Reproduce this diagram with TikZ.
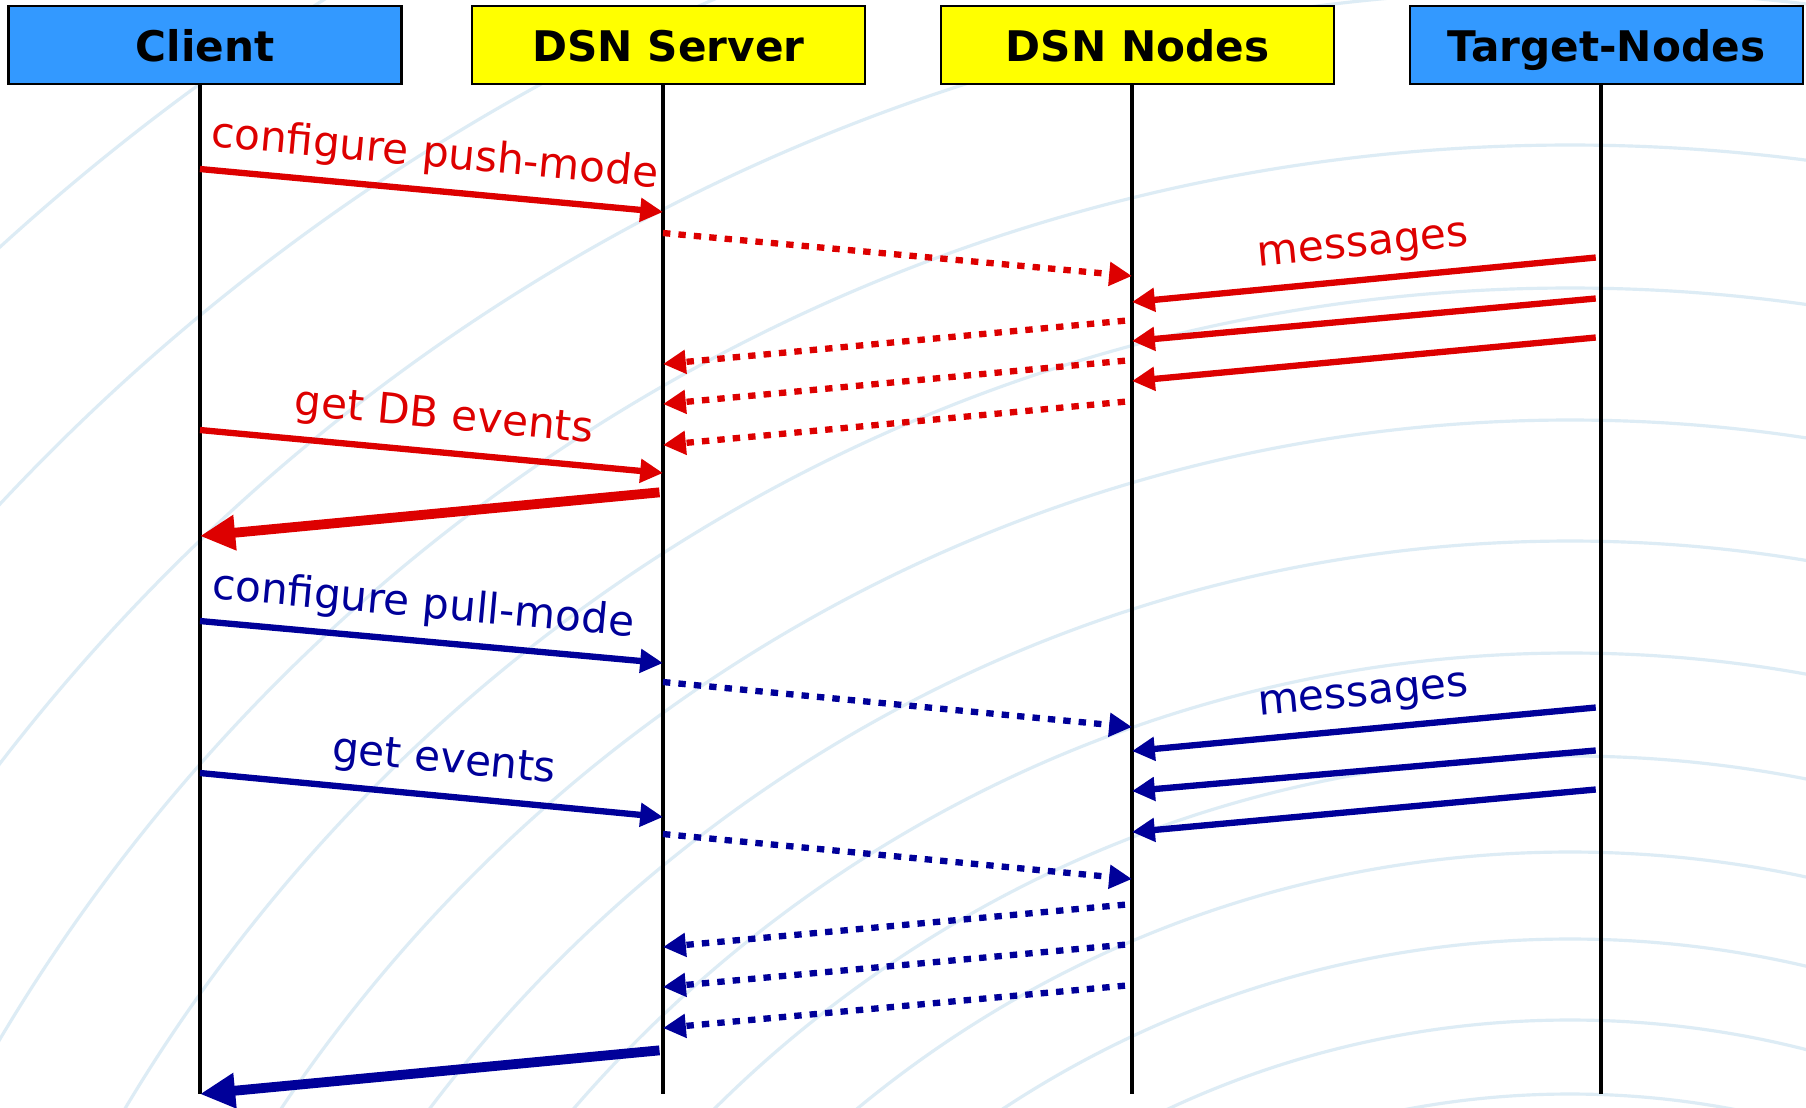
\documentclass[tikz,border=0pt]{standalone}
\usepackage{fontspec}
\setmainfont{DejaVu Sans}
\usetikzlibrary{arrows.meta}

\definecolor{pushred}{RGB}{221,0,0}
\definecolor{pullblue}{RGB}{0,0,153}
\definecolor{hdrblue}{RGB}{51,153,255}
\definecolor{hdryellow}{RGB}{255,255,0}
\definecolor{ring}{RGB}{221,236,245}

\begin{document}
\begin{tikzpicture}
\tikzset{
    actor/.style={draw=black, line width=0.6pt, minimum width=3.93cm, minimum height=0.78cm,
        text height=0.95em, text depth=0pt, font=\fontsize{12}{14}\selectfont\bfseries},
    life/.style={line width=0.9pt},
    msg/.style={line width=1.8pt, -{Triangle[length=6.5pt,width=6.5pt]}},
    async/.style={msg, dash pattern=on 2.1pt off 2.3pt},
    reply/.style={line width=2.8pt, -{Triangle[length=10pt,width=9.5pt]}},
    lbl/.style={above, sloped, font=\fontsize{12}{14}\selectfont}
}
    \useasboundingbox (0,0) rectangle (18.06,-11.07);
    \fill[white] (0,0) rectangle (18.06,-11.07);

    % rings in the back
    \begin{scope}
        \clip (0,0) rectangle (18.06,-11.07);
        \foreach \r in {8.76,9.50,10.31,11.18,12.14,13.17,14.29,15.50,16.82,18.25,19.80,21.48,23.31,25.29}
            \draw[ring, line width=0.9pt] (15.70,-19.70) circle (\r);
    \end{scope}

    \node[actor, fill=hdrblue] (client) at (2.05,-0.45) {Client};
    \node[actor, fill=hdryellow] (server) at (6.685,-0.45) {DSN Server};
    \node[actor, fill=hdryellow] (nodes) at (11.375,-0.45) {DSN Nodes};
    \node[actor, fill=hdrblue] (target) at (16.065,-0.45) {Target-Nodes};

    \coordinate (cl) at (2.00,0);
    \coordinate (sv) at (6.63,0);
    \coordinate (dn) at (11.32,0);
    \coordinate (tg) at (16.01,0);

    \foreach \a/\b in {client/cl, server/sv, nodes/dn, target/tg}
        \draw[life] (\a.south -| \b) -- (\b |- 0,-10.94);

    % push mode
    \draw[msg, pushred] (cl |- 0,-1.69) -- node[lbl] {configure push-mode} (sv |- 0,-2.12);
    \draw[async, pushred] (sv |- 0,-2.33) -- (dn |- 0,-2.76);
    \draw[msg, pushred, shorten <=1.5pt] (tg |- 0,-2.57) -- node[lbl] {messages} (dn |- 0,-3.02);
    \draw[msg, pushred, shorten <=1.5pt] (tg |- 0,-2.98) -- (dn |- 0,-3.41);
    \draw[msg, pushred, shorten <=1.5pt] (tg |- 0,-3.37) -- (dn |- 0,-3.81);
    \draw[async, pushred, shorten <=2pt] (dn |- 0,-3.20) -- (sv |- 0,-3.64);
    \draw[async, pushred, shorten <=2pt] (dn |- 0,-3.60) -- (sv |- 0,-4.04);
    \draw[async, pushred, shorten <=2pt] (dn |- 0,-4.01) -- (sv |- 0,-4.45);
    \draw[msg, pushred] (cl |- 0,-4.30) -- node[lbl, pos=.52] {get DB events} (sv |- 0,-4.73);
    \draw[reply, pushred, shorten <=1pt] (sv |- 0,-4.92) -- (cl |- 0,-5.36);

    % pull mode
    \draw[msg, pullblue] (cl |- 0,-6.21) -- node[lbl, pos=.475] {configure pull-mode} (sv |- 0,-6.63);
    \draw[async, pullblue] (sv |- 0,-6.82) -- (dn |- 0,-7.27);
    \draw[msg, pullblue, shorten <=1.5pt] (tg |- 0,-7.07) -- node[lbl] {messages} (dn |- 0,-7.51);
    \draw[msg, pullblue, shorten <=1.5pt] (tg |- 0,-7.50) -- (dn |- 0,-7.91);
    \draw[msg, pullblue, shorten <=1.5pt] (tg |- 0,-7.89) -- (dn |- 0,-8.32);
    \draw[msg, pullblue] (cl |- 0,-7.73) -- node[lbl, pos=.52] {get events} (sv |- 0,-8.17);
    \draw[async, pullblue] (sv |- 0,-8.34) -- (dn |- 0,-8.79);
    \draw[async, pullblue, shorten <=2pt] (dn |- 0,-9.04) -- (sv |- 0,-9.47);
    \draw[async, pullblue, shorten <=2pt] (dn |- 0,-9.44) -- (sv |- 0,-9.87);
    \draw[async, pullblue, shorten <=2pt] (dn |- 0,-9.85) -- (sv |- 0,-10.28);
    \draw[reply, pullblue, shorten <=1pt] (sv |- 0,-10.50) -- (cl |- 0,-10.94);
\end{tikzpicture}
\end{document}
